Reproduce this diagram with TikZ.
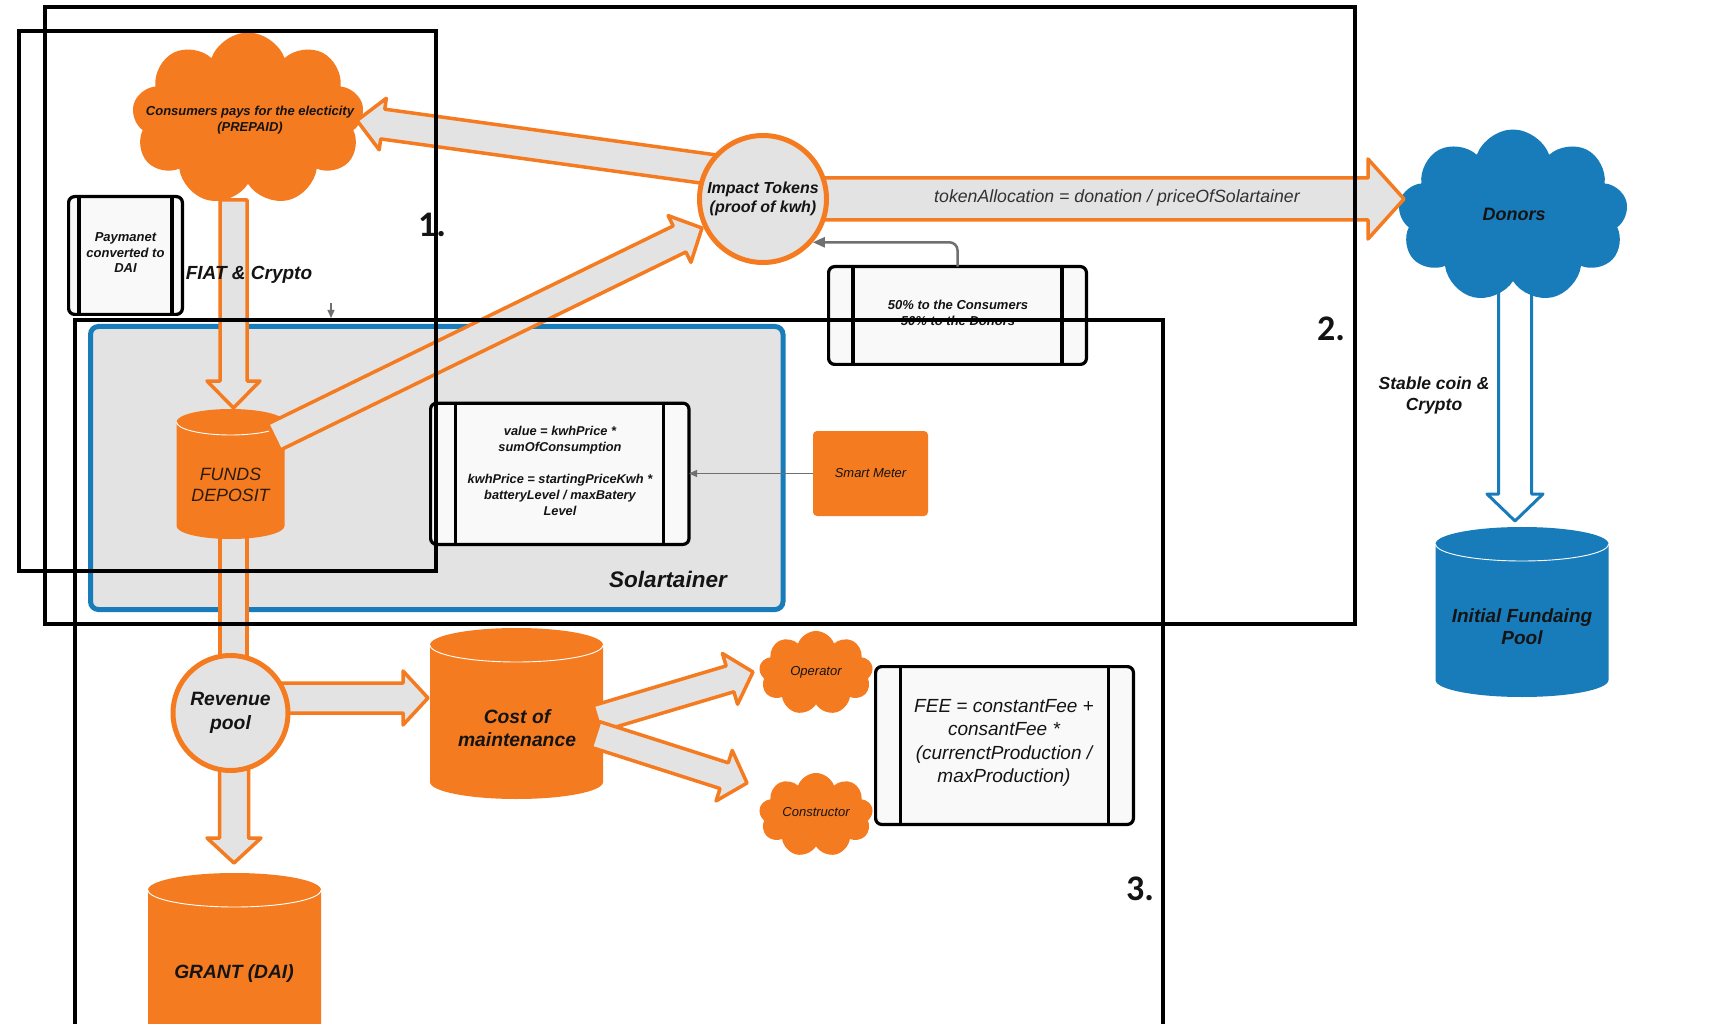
\documentclass[tikz,border=0pt]{standalone}
\usepackage{fontspec}
\setmainfont{Liberation Sans}
\newfontfamily\numfont{Carlito}
\usetikzlibrary{calc,shapes.symbols,arrows.meta}
\definecolor{org}{RGB}{245,123,32}
\definecolor{blu}{RGB}{24,124,187}
\definecolor{lgray}{RGB}{227,227,227}
\definecolor{boxfill}{RGB}{249,249,249}
\definecolor{connc}{RGB}{112,112,112}
\definecolor{txt}{RGB}{20,20,20}
\newcommand\fsz[2]{\fontsize{#1pt}{#2pt}\selectfont}
% fat arrow: [style] {start}{tip}{half shaft}{half head}{head length}
\newcommand\fatarr[6][fat]{%
  \coordinate (faH) at ($(#3)!#6pt!(#2)$);
  \draw[#1] ($(#2)!#4pt!90:(#3)$) -- ($(faH)!#4pt!90:(#3)$) -- ($(faH)!#5pt!90:(#3)$) -- (#3)
    -- ($(faH)!#5pt!-90:(#3)$) -- ($(faH)!#4pt!-90:(#3)$) -- ($(#2)!#4pt!-90:(#3)$) -- cycle;}
\newcommand\fatshaft[4][fat]{%
  \draw[#1] ($(#2)!#4pt!90:(#3)$) -- ($(#3)!#4pt!-90:(#2)$) -- ($(#3)!#4pt!90:(#2)$) -- ($(#2)!#4pt!-90:(#3)$) -- cycle;}
% cylinder: cx, top-ellipse centre y, bottom-ellipse centre y, half width, ry, colour
\newcommand\cylbody[6]{%
  \fill[#6] ({#1-#4},#2) -- ({#1-#4},#3) arc[start angle=180,end angle=360,x radius=#4pt,y radius=#5pt]
    -- ({#1+#4},#2) arc[start angle=0,end angle=180,x radius=#4pt,y radius=#5pt] -- cycle;
  \draw[white,line width=0.9pt] ({#1-#4},#2) arc[start angle=180,end angle=360,x radius=#4pt,y radius=#5pt];}
% process box: name, cx, cy, W, H, inset
\newcommand\procbox[6]{%
  \node[proc, minimum width=#4pt, minimum height=#5pt] (#1) at (#2,#3) {};
  \draw[line width=3.2pt] ([xshift=#6pt]#1.north west) -- ([xshift=#6pt]#1.south west);
  \draw[line width=3.2pt] ([xshift=-#6pt]#1.north east) -- ([xshift=-#6pt]#1.south east);}
\begin{document}
\begin{tikzpicture}[x=1pt,y=-1pt,
  fat/.style={draw=org, fill=lgray, line width=3.5pt, line join=round},
  hollow/.style={draw=blu, fill=white, line width=3pt, line join=round},
  frame/.style={draw=black, line width=4.5pt},
  proc/.style={draw=black, fill=boxfill, line width=3.2pt, rounded corners=6pt, inner sep=0pt, outer sep=0pt},
  cloudy/.style={cloud, cloud puffs=9, cloud puff arc=140, draw=none, inner sep=0pt},
  lbl/.style={text=txt, inner sep=0pt, align=center},
  bi/.style={lbl, font=\bfseries\itshape},
  conn/.style={draw=connc, line width=2.5pt, -{Triangle[length=12pt,width=10pt]}},
  thinconn/.style={draw=connc, line width=1.2pt, -{Triangle[length=8pt,width=7pt]}},
  ring/.style={circle, draw=org, fill=lgray, line width=5pt, inner sep=0pt, text=txt, align=center}]
\useasboundingbox (0,0) rectangle (1730,1024);
\clip (0,0) rectangle (1730,1024);
\fill[white] (0,0) rectangle (1730,1024);

% Solartainer container
\node[draw=blu, line width=5pt, fill=lgray, rounded corners=8pt, minimum width=692.5pt, minimum height=283pt, inner sep=0pt, outer sep=0pt] (sol) at (436.75,468) {};
\node[bi, font=\fsz{22.5}{26}\bfseries\itshape] (sollbl) at (668,579) {Solartainer};

% shafts lying under clouds / cylinders
\coordinate (cfStart) at (233.5,200); \coordinate (cfTip) at (233.5,408);
\fatarr{cfStart}{cfTip}{13.5}{26.5}{27}
\coordinate (frStart) at (233.5,520); \coordinate (frEnd) at (233.5,700);
\fatshaft{frStart}{frEnd}{13.5}
\coordinate (dpStart) at (1515,260); \coordinate (dpTip) at (1515,521);
\fatarr[hollow]{dpStart}{dpTip}{16.5}{28}{27}

% clouds
\node[cloudy, fill=org, aspect=1.34, minimum width=232pt, minimum height=173pt] (cons) at (248,119) {};
\node[bi, font=\fsz{13}{16.5}\bfseries\itshape] (conslbl) at (250,120) {Consumers pays for the electicity\\(PREPAID)};
\node[cloudy, fill=blu, aspect=1.33, minimum width=230pt, minimum height=173pt] (don) at (1513,216) {};
\node[bi, font=\fsz{18}{21}\bfseries\itshape] (donlbl) at (1514,214) {Donors};
\node[cloudy, fill=org, aspect=1.36, minimum width=114pt, minimum height=84pt] (op) at (816,673) {};
\node[lbl, font=\fsz{13}{15}\itshape] (oplbl) at (816,672) {Operator};
\node[cloudy, fill=org, aspect=1.36, minimum width=114pt, minimum height=84pt] (con) at (816,815) {};
\node[lbl, font=\fsz{13}{15}\itshape] (conlbl) at (816,812) {Constructor};

% cylinders
\cylbody{230.5}{422}{526}{54}{13}{org}
\node[lbl, text={rgb,255:red,45;green,28;blue,12}, font=\fsz{17.8}{21}\itshape] (funds) at (230.5,485) {FUNDS\\DEPOSIT};
\cylbody{516.5}{645}{782}{86.5}{17}{org}
\node[bi, font=\fsz{19.3}{23}\bfseries\itshape] (cost) at (517,728) {Cost of\\maintenance};
\cylbody{234.5}{890}{1060}{86.5}{17}{org}
\node[bi, font=\fsz{19.2}{23}\bfseries\itshape] (grant) at (234,974) {GRANT (DAI)};
\cylbody{1522}{544}{680}{86.5}{17}{blu}
\node[bi, font=\fsz{19}{22}\bfseries\itshape] (pool) at (1522,627) {Initial Fundaing\\Pool};

% circle centres (needed for arrows drawn beneath)
\path (763,199) coordinate (impC);
\path (230.5,713) coordinate (revC);

% fat arrows
\coordinate (diaStart) at (274,437); \coordinate (diaTip) at (702,228);
\fatarr{diaStart}{diaTip}{14.5}{26}{25}
\coordinate (icStart) at (723,171); \coordinate (icTip) at (357,120.5);
\fatarr{icStart}{icTip}{15}{26}{26}
\coordinate (idStart) at (800,199); \coordinate (idTip) at (1404,199);
\fatarr{idStart}{idTip}{21}{40}{36}
\coordinate (rcStart) at (262,698); \coordinate (rcTip) at (428,698);
\fatarr{rcStart}{rcTip}{15}{27}{25}
\coordinate (rgStart) at (234,740); \coordinate (rgTip) at (234,863);
\fatarr{rgStart}{rgTip}{14.5}{27}{25}
\coordinate (coStart) at (597,718.5); \coordinate (coTip) at (753,672);
\fatarr{coStart}{coTip}{13.5}{26.5}{24}
\coordinate (ccStart) at (595.5,734.5); \coordinate (ccTip) at (747,783);
\fatarr{ccStart}{ccTip}{13.5}{26.5}{24}

% circle nodes
\node[ring, minimum size=127pt, font=\fsz{16}{19.5}\bfseries\itshape] (imp) at (impC) {Impact Tokens\\(proof of kwh)};
\node[ring, minimum size=115pt, font=\fsz{19.3}{24}\bfseries\itshape] (rev) at (revC) {Revenue\\pool};

\node[lbl, text={rgb,255:red,50;green,50;blue,50}, font=\fsz{17.7}{20}\itshape] (tokl) at (1117,198) {tokenAllocation = donation / priceOfSolartainer};

% process boxes
\procbox{pay}{125.5}{255.5}{113.8}{117.8}{10.4}
\node[bi, font=\fsz{13}{15.5}\bfseries\itshape] (paylbl) at (125.5,253) {Paymanet\\converted to\\DAI};
\procbox{pct}{957.5}{315.5}{257.8}{97.8}{24.4}
\node[bi, font=\fsz{13}{15.5}\bfseries\itshape] (pctlbl) at (958,313) {50\% to the Consumers\\50\% to the Donors};
\procbox{val}{559.8}{473.8}{258.4}{141.2}{25.2}
\node[bi, font=\fsz{12.8}{16}\bfseries\itshape] (vallbl) at (560,471) {value = kwhPrice *\\sumOfConsumption\\\mbox{}\\kwhPrice = startingPriceKwh *\\batteryLevel / maxBatery\\Level};
\procbox{fee}{1004.5}{745.5}{257.8}{157.8}{25}
\node[lbl, font=\fsz{19}{23.3}\itshape] (feelbl) at (1004,743) {FEE = constantFee +\\consantFee *\\(currenctProduction /\\maxProduction)};

% smart meter
\node[fill=org, rounded corners=4pt, minimum width=115pt, minimum height=85pt, inner sep=0pt, outer sep=0pt, font=\fsz{13}{15}\itshape, text=txt] (sm) at (870.5,473.5) {Smart Meter};

% labels
\node[bi, font=\fsz{19}{22}\bfseries\itshape] (fiat) at (249,275) {FIAT \& Crypto};
\node[bi, font=\fsz{17.5}{21}\bfseries\itshape] (stable) at (1434,395.5) {Stable coin \&\\Crypto};

% thin connectors
\draw[conn, rounded corners=8pt] (pct.north) |- (imp.-41);
\draw[thinconn] (sm.west) -- (sm.west -| val.east);
\coordinate (smallA) at (331,303); \coordinate (smallB) at (331,318);
\draw[thinconn] (smallA) -- (smallB);

% numbers
\node[lbl, font=\numfont\bfseries\fsz{36}{40}] (n1) at (432,225) {1.};
\node[lbl, font=\numfont\bfseries\fsz{36}{40}] (n2) at (1331,329) {2.};
\node[lbl, font=\numfont\bfseries\fsz{36}{40}] (n3) at (1140,889) {3.};

% frames
\draw[frame] (19,31) rectangle (436,571);
\draw[frame] (45,7) rectangle (1355,624);
\draw[frame] (75,1030) -- (75,320) -- (1163,320) -- (1163,1030);
\end{tikzpicture}
\end{document}
